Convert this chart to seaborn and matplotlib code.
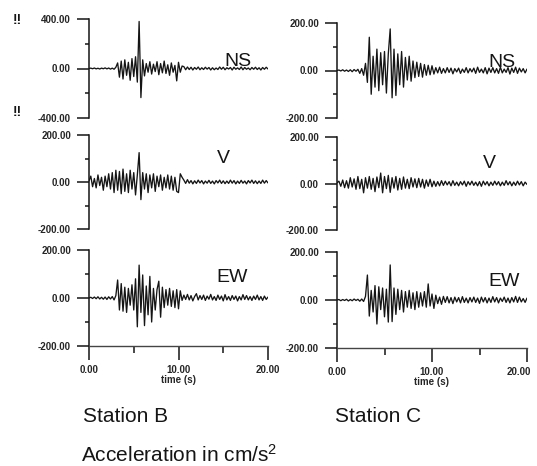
import numpy as np
import matplotlib
matplotlib.use('Agg')
import matplotlib.pyplot as plt
import matplotlib.transforms as mtransforms
import seaborn as sns

# Accelerograms, one sample every ~0.2 s from 0 to 20 s (cm/s^2)
B_NS = [0, 3, -2, 4, -3, 2, -4, 3, -2, 5, -3, 4, -5, 3, -6, 10,
        45, -70, 60, -85, 70, -55, 50, -95, 80, -65, 95, -110,
        380, -235,
        70, -60, 40, -30, 55, -45, 35, -25, 55, -50, 40, -35, 60, -40, 30,
        -55, 45, -30, 25, -100, 50, -30, 20,
        15, -10, 12, -8, 10, -12, 8, -6, 12, -10, 6, -8, 10, -5, 8, -12,
        6, -10, 4, -8, 12, -6, 10, -10, 6, -4, 8, -12, 10, -6, 5, -8,
        12, -10, 8, -6, 4, -10, 8, -6, 10, -8, 6, -12, 8, -6, 10, -4]

B_V = [5, 25, -20, 15, -25, 30, -15, 20, -35, 25, -20, 35, -30, 40, -45,
       50, -35, 45, -50, 55, -40, 35, -45, 50, -30, 40, -55, 30,
       125, -75,
       40, -30, 35, -45, 30, -25, 35, -40, 25, -20, 30, -35, 20, -25, 30,
       -30, 25, -35, 20, -40, -45, 35,
       20, 8, -6, 10, -5, 6, -8, 5, -6, 8, -4, 6, -8, 4, -5, 7, -6, 4, -8, 6,
       -4, 8, -6, 5, -7, 4, -6, 8, -5, 6, -8, 4, -6, 7, -5, 4, -8, 6, -4, 8,
       -6, 5, -7, 4, -6, 8, -5, 6, -4]

B_EW = [0, 3, -2, 4, -3, 5, -4, 3, -5, 4, -6, 5, -4, 6, -8, 10,
        75, -50, 60, -55, 45, -60, 40, -30, 55, -50, 80, -120, 137, -60,
        96, -115, 50, -70, 90, -100, 40, -50, 35, 70, -80, 45, -40, 35,
        -30, 40, -35, 30, -40, 35, -45, 30,
        -10, 12, -6, 15, -8, 10, -12, 6, 18, -8, 10, -6, 12, -10, 8, -5,
        15, -8, 6, -10, 12, -6, 8, -12, 14, -8, 6, -10, 10, -6, 8, -12,
        6, -8, 14, -6, 10, -8, 6, -10, 8, -6, 12, -8, 6, -10, 8, -6, 4]

C_NS = [0, 2, -2, 3, -3, 2, -4, 3, -5, 4, -3, 5, -12, 8,
        -20, 30, -50,
        140, -100,
        60, -70, 90, -85, 75, -60, 80, -95, 70,
        175, -115,
        90, -105, 70, -60, 80, -70, 55, -40, 60, -45, 40, -30, 35, -25, 30,
        -28, 25, -20, 22, -18, 20,
        -15, 12, -10, 14, -12, 8, -10, 12, -8, 10, -14, 8, -6, 10, -12, 6,
        -8, 12, -10, 8, -6, 10, -12, 14, -8, 6, -10, 12, -14, 10, -8, 12,
        -10, 8, -12, 14, -10, 6, -8, 12, -15, 10, -8, 14, -12, 10, -6, 8, -10, 6]

C_V = [3, 10, -12, 15, -18, 12, -20, 25, -15, 20, -25, 30, -22, 18, -40,
       25, -20, 30, -25, 22, -35, 28, -18, 45, -40, 30, -22, 35, -38, 25,
       -20, 30, -28, 22, -25, 28, -20, 18, -22, 25, -15, 20, -18, 22, -15,
       18, -20, 15, -12, 18, -14,
       10, -12, 8, -10, 12, -8, 10, -6, 8, -10, 12, -8, 6, -10, 8, -6,
       10, -12, 8, -6, 10, -8, 6, -10, 8, -12, 10, -6, 8, -10, 6, -8,
       10, -6, 8, -10, 6, -8, 12, -6, 8, -10, 6, -8, 10, -6, 8, -10, 6, -4]

C_EW = [0, 2, -3, 2, -2, 3, -4, 2, -3, 4, -2, 3, -5, 4, -6, 15,
        104, -67, 40, -50, 60, -100, 55, -40, 50, -70, 45, -92, 146, -90,
        50, -60, 45, -40, 40, -50, 35, -30, 40, -35, 30, -40, 35, -30, 30,
        -25, 35, -30, 67, -25, 25, -35,
        20, -15, 12, -18, 15, -10, 14, -12, 10, -15, 12, -8, 10, -12, 14,
        -10, 8, -12, 10, -8, 12, -10, 8, -14, 12, -8, 10, -12, 8, -10, 14,
        -8, 10, -12, 8, -6, 12, -10, 8, -12, 10, -8, 15, -10, 12, -8, 6, -10, 8]

COMPONENTS = ['NS', 'V', 'EW']
STATION_B = [B_NS, B_V, B_EW]
STATION_C = [C_NS, C_V, C_EW]
B_LIMITS = [400, 200, 200]
C_LIMITS = [200, 200, 200]
T_END = 20.0

sns.set_style('ticks')
plt.rcParams['font.family'] = ['Liberation Sans', 'DejaVu Sans']
plt.rcParams['mathtext.default'] = 'regular'

W, H = 537, 466
fig = plt.figure(figsize=(W / 100, H / 100), dpi=100)
fig.patch.set_facecolor('white')

# axes boxes in pixels: (left, top, right, bottom)
B_BOXES = [(89, 19, 268, 118), (89, 135, 268, 229), (89, 250, 268, 346)]
C_BOXES = [(337, 23, 527, 118), (337, 137, 527, 230), (337, 252, 527, 348)]
LABEL_POS_B = [(0.83, 0.57), (0.75, 0.75), (0.80, 0.71)]
LABEL_POS_C = [(0.87, 0.58), (0.80, 0.71), (0.88, 0.69)]

INK = '#151515'


def make_axes(box):
    l, t, r, b = box
    return fig.add_axes([l / W, 1 - b / H, (r - l) / W, (b - t) / H])


def draw_panel(box, values, lim, comp, label_pos, bottom, right_edge=False):
    ax = make_axes(box)
    t = np.linspace(0, T_END, len(values))
    sns.lineplot(x=t, y=values, ax=ax, color=INK, linewidth=0.95,
                 estimator=None, sort=False)
    ax.set_xlim(0, T_END)
    ax.set_ylim(-lim, lim)
    ax.set_facecolor('none')
    for s in ['top', 'right']:
        ax.spines[s].set_visible(False)
    ax.spines['left'].set_linewidth(1.1)
    ax.spines['left'].set_color(INK)

    ax.set_yticks([-lim, 0, lim])
    ax.set_yticklabels([f'{v:.2f}' for v in [-lim, 0, lim]])
    ax.set_yticks([-lim / 2, lim / 2], minor=True)
    ax.tick_params(axis='y', which='major', direction='out', length=9,
                   width=1.1, color=INK, pad=4, labelsize=7)
    ax.tick_params(axis='y', which='minor', direction='out', length=3,
                   width=1.1, color=INK)
    for lab in ax.get_yticklabels():
        lab.set_fontweight('bold')

    if bottom:
        ax.spines['bottom'].set_linewidth(1.0)
        ax.spines['bottom'].set_color('#444444')
        ax.set_xticks([0, 10, 20])
        ax.set_xticklabels(['0.00', '10.00', '20.00'])
        ax.set_xticks([5, 15], minor=True)
        ax.tick_params(axis='x', which='major', direction='out', length=10,
                       width=1.1, color=INK, pad=4, labelsize=7)
        ax.tick_params(axis='x', which='minor', direction='out', length=5,
                       width=1.1, color=INK)
        labels = ax.get_xticklabels()
        for lab in labels:
            lab.set_fontweight('bold')
        if right_edge:
            # keep the last label inside the page
            shift = mtransforms.ScaledTranslation(-8 / 100, 0, fig.dpi_scale_trans)
            labels[-1].set_transform(labels[-1].get_transform() + shift)
        ax.set_xlabel('time (s)', fontsize=7, fontweight='bold', labelpad=0)
    else:
        ax.spines['bottom'].set_visible(False)
        ax.set_xticks([])
        ax.set_xlabel('')
    ax.set_ylabel('')

    ax.text(label_pos[0], label_pos[1], comp, transform=ax.transAxes,
            ha='center', va='center', fontsize=14, color=INK)
    return ax


for i, comp in enumerate(COMPONENTS):
    draw_panel(B_BOXES[i], STATION_B[i], B_LIMITS[i], comp, LABEL_POS_B[i], i == 2)
    draw_panel(C_BOXES[i], STATION_C[i], C_LIMITS[i], comp, LABEL_POS_C[i], i == 2,
               right_edge=True)

# scan marks beside the top-left scale
fig.text(17 / W, 1 - 20 / H, '!!', fontsize=10, fontweight='bold', ha='center', va='center', color=INK)
fig.text(17 / W, 1 - 112 / H, '!!', fontsize=10, fontweight='bold', ha='center', va='center', color=INK)

fig.text(83 / W, 1 - 417 / H, 'Station B', fontsize=15, ha='left', va='center', color=INK)
fig.text(335 / W, 1 - 417 / H, 'Station C', fontsize=15, ha='left', va='center', color=INK)
fig.text(81 / W, 1 - 455 / H, 'Acceleration in cm/s$^2$', fontsize=15,
         ha='left', va='center', color=INK)

fig.savefig('out.png', dpi=100)
